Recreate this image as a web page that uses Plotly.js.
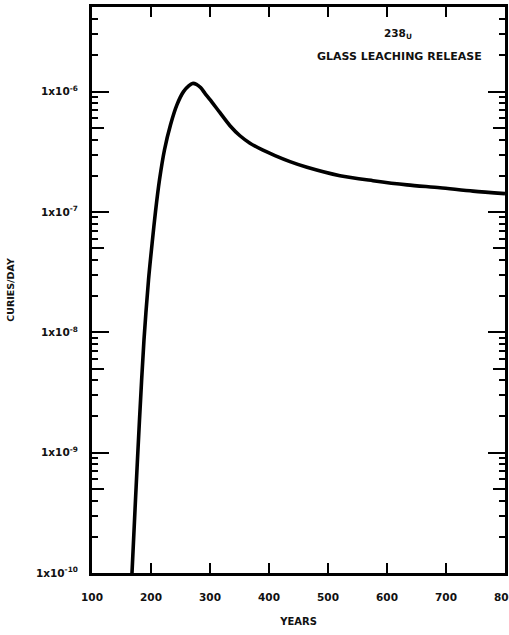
<!DOCTYPE html>
<html>
<head>
<meta charset="utf-8">
<script src="https://cdn.plot.ly/plotly-3.0.1.min.js"></script>
<style>html,body{margin:0;padding:0;background:#fff;}#chart{width:509px;height:635px;}</style>
</head>
<body>
<div id="chart"></div>
<script>
// Curve: 238U glass leaching release (years vs curies/day)
const years = [167.8, 173.7, 180.5, 188.1, 195.8, 202.5, 207.6, 214.4, 222.9, 233.1, 244.1, 255.1, 264.4, 270.3, 277.0, 284.0, 292.0, 300.0, 316.9, 333.9, 350.8, 367.8, 389.8, 410.2, 435.6, 464.4, 520.3, 576.3, 633.9, 689.8, 745.8, 800];
const curiesPerDay = [1.0e-10, 4.04e-10, 1.87e-9, 8.65e-9, 2.73e-8, 5.87e-8, 1.005e-7, 1.85e-7, 3.29e-7, 5.31e-7, 7.8e-7, 1.0e-6, 1.12e-6, 1.17e-6, 1.15e-6, 1.08e-6, 9.6e-7, 8.58e-7, 6.68e-7, 5.21e-7, 4.3e-7, 3.73e-7, 3.26e-7, 2.94e-7, 2.62e-7, 2.35e-7, 2.0e-7, 1.82e-7, 1.68e-7, 1.59e-7, 1.49e-7, 1.42e-7];

// Axis ticks
const xTickVals = [100, 200, 300, 400, 500, 600, 700, 800];
const xTickText = ['100', '200', '300', '400', '500', '600', '700', '800'];
const yDecades = [1e-10, 1e-9, 1e-8, 1e-7, 1e-6];
const yTickText = ['1x10<sup>-10</sup>', '1x10<sup>-9</sup>', '1x10<sup>-8</sup>', '1x10<sup>-7</sup>', '1x10<sup>-6</sup>'];
const yFiveTicks = [5e-10, 5e-9, 5e-8, 5e-7, 5e-6];
const yMinorMantissas = [2, 3, 4, 6, 7, 8, 9];

const yRange = [-10, Math.log10(5.05e-6)];
const yMinorTicks = [];
[-10, -9, -8, -7, -6].forEach(function (e) {
  yMinorMantissas.forEach(function (m) {
    const v = m * Math.pow(10, e);
    if (v <= 5.05e-6) yMinorTicks.push(v);
  });
});

const FAM = 'DejaVu Sans, Arial, sans-serif';
const boldFont = function (s) { return {family: FAM, size: s, color: '#111', weight: 'bold'}; };

const traces = [
  {
    x: years, y: curiesPerDay, type: 'scatter', mode: 'lines',
    line: {color: '#000', width: 3.6, shape: 'spline', smoothing: 0.8},
    xaxis: 'x', yaxis: 'y', hoverinfo: 'skip', showlegend: false
  },
  {x: [], y: [], type: 'scatter', mode: 'lines', xaxis: 'x', yaxis: 'y2', hoverinfo: 'skip', showlegend: false},
  {x: [], y: [], type: 'scatter', mode: 'lines', xaxis: 'x', yaxis: 'y3', hoverinfo: 'skip', showlegend: false}
];

const layout = {
  width: 509, height: 635,
  margin: {l: 92, r: 4, t: 7, b: 62},
  paper_bgcolor: '#fff', plot_bgcolor: '#fff',
  font: {family: FAM, size: 10, color: '#111'},
  showlegend: false,
  xaxis: {
    range: [100, 800], type: 'linear',
    tickmode: 'array', tickvals: xTickVals, ticktext: xTickText,
    ticks: 'inside', ticklen: 10, tickwidth: 2, tickcolor: '#000',
    showline: true, linewidth: 3, linecolor: '#000', mirror: 'ticks',
    showgrid: false, zeroline: false,
    tickfont: boldFont(10.5),
    ticklabelstandoff: 12,
    ticklabeloverflow: 'allow',
    title: {text: 'YEARS', standoff: 17, font: boldFont(10)},
    automargin: false
  },
  yaxis: {
    type: 'log', range: yRange,
    tickmode: 'array', tickvals: yDecades, ticktext: yTickText,
    ticks: 'inside', ticklen: 17, tickwidth: 2, tickcolor: '#000',
    showline: true, linewidth: 3, linecolor: '#000', mirror: 'ticks',
    showgrid: false, zeroline: false,
    tickfont: boldFont(10.5),
    ticklabelstandoff: 9,
    title: {text: 'CURIES/DAY', standoff: 20, font: boldFont(9.5)},
    automargin: false
  },
  yaxis2: {
    type: 'log', range: yRange, overlaying: 'y', side: 'left',
    tickmode: 'array', tickvals: yFiveTicks,
    ticks: 'inside', ticklen: 12, tickwidth: 2, tickcolor: '#000',
    showticklabels: false, showline: false, mirror: 'ticks',
    showgrid: false, zeroline: false
  },
  yaxis3: {
    type: 'log', range: yRange, overlaying: 'y', side: 'left',
    tickmode: 'array', tickvals: yMinorTicks,
    ticks: 'inside', ticklen: 6, tickwidth: 2, tickcolor: '#000',
    showticklabels: false, showline: false, mirror: 'ticks',
    showgrid: false, zeroline: false
  },
  annotations: [
    {xref: 'paper', yref: 'paper', x: 0.742, y: 0.952, xanchor: 'center', yanchor: 'middle',
     text: '<b>238<sub>U</sub></b>', showarrow: false, font: {family: FAM, size: 10.5, color: '#111'}},
    {xref: 'paper', yref: 'paper', x: 0.745, y: 0.912, xanchor: 'center', yanchor: 'middle',
     text: '<b>GLASS LEACHING RELEASE</b>', showarrow: false, font: {family: FAM, size: 11, color: '#111'}}
  ]
};

Plotly.newPlot('chart', traces, layout, {staticPlot: true, displayModeBar: false});
</script>
</body>
</html>
